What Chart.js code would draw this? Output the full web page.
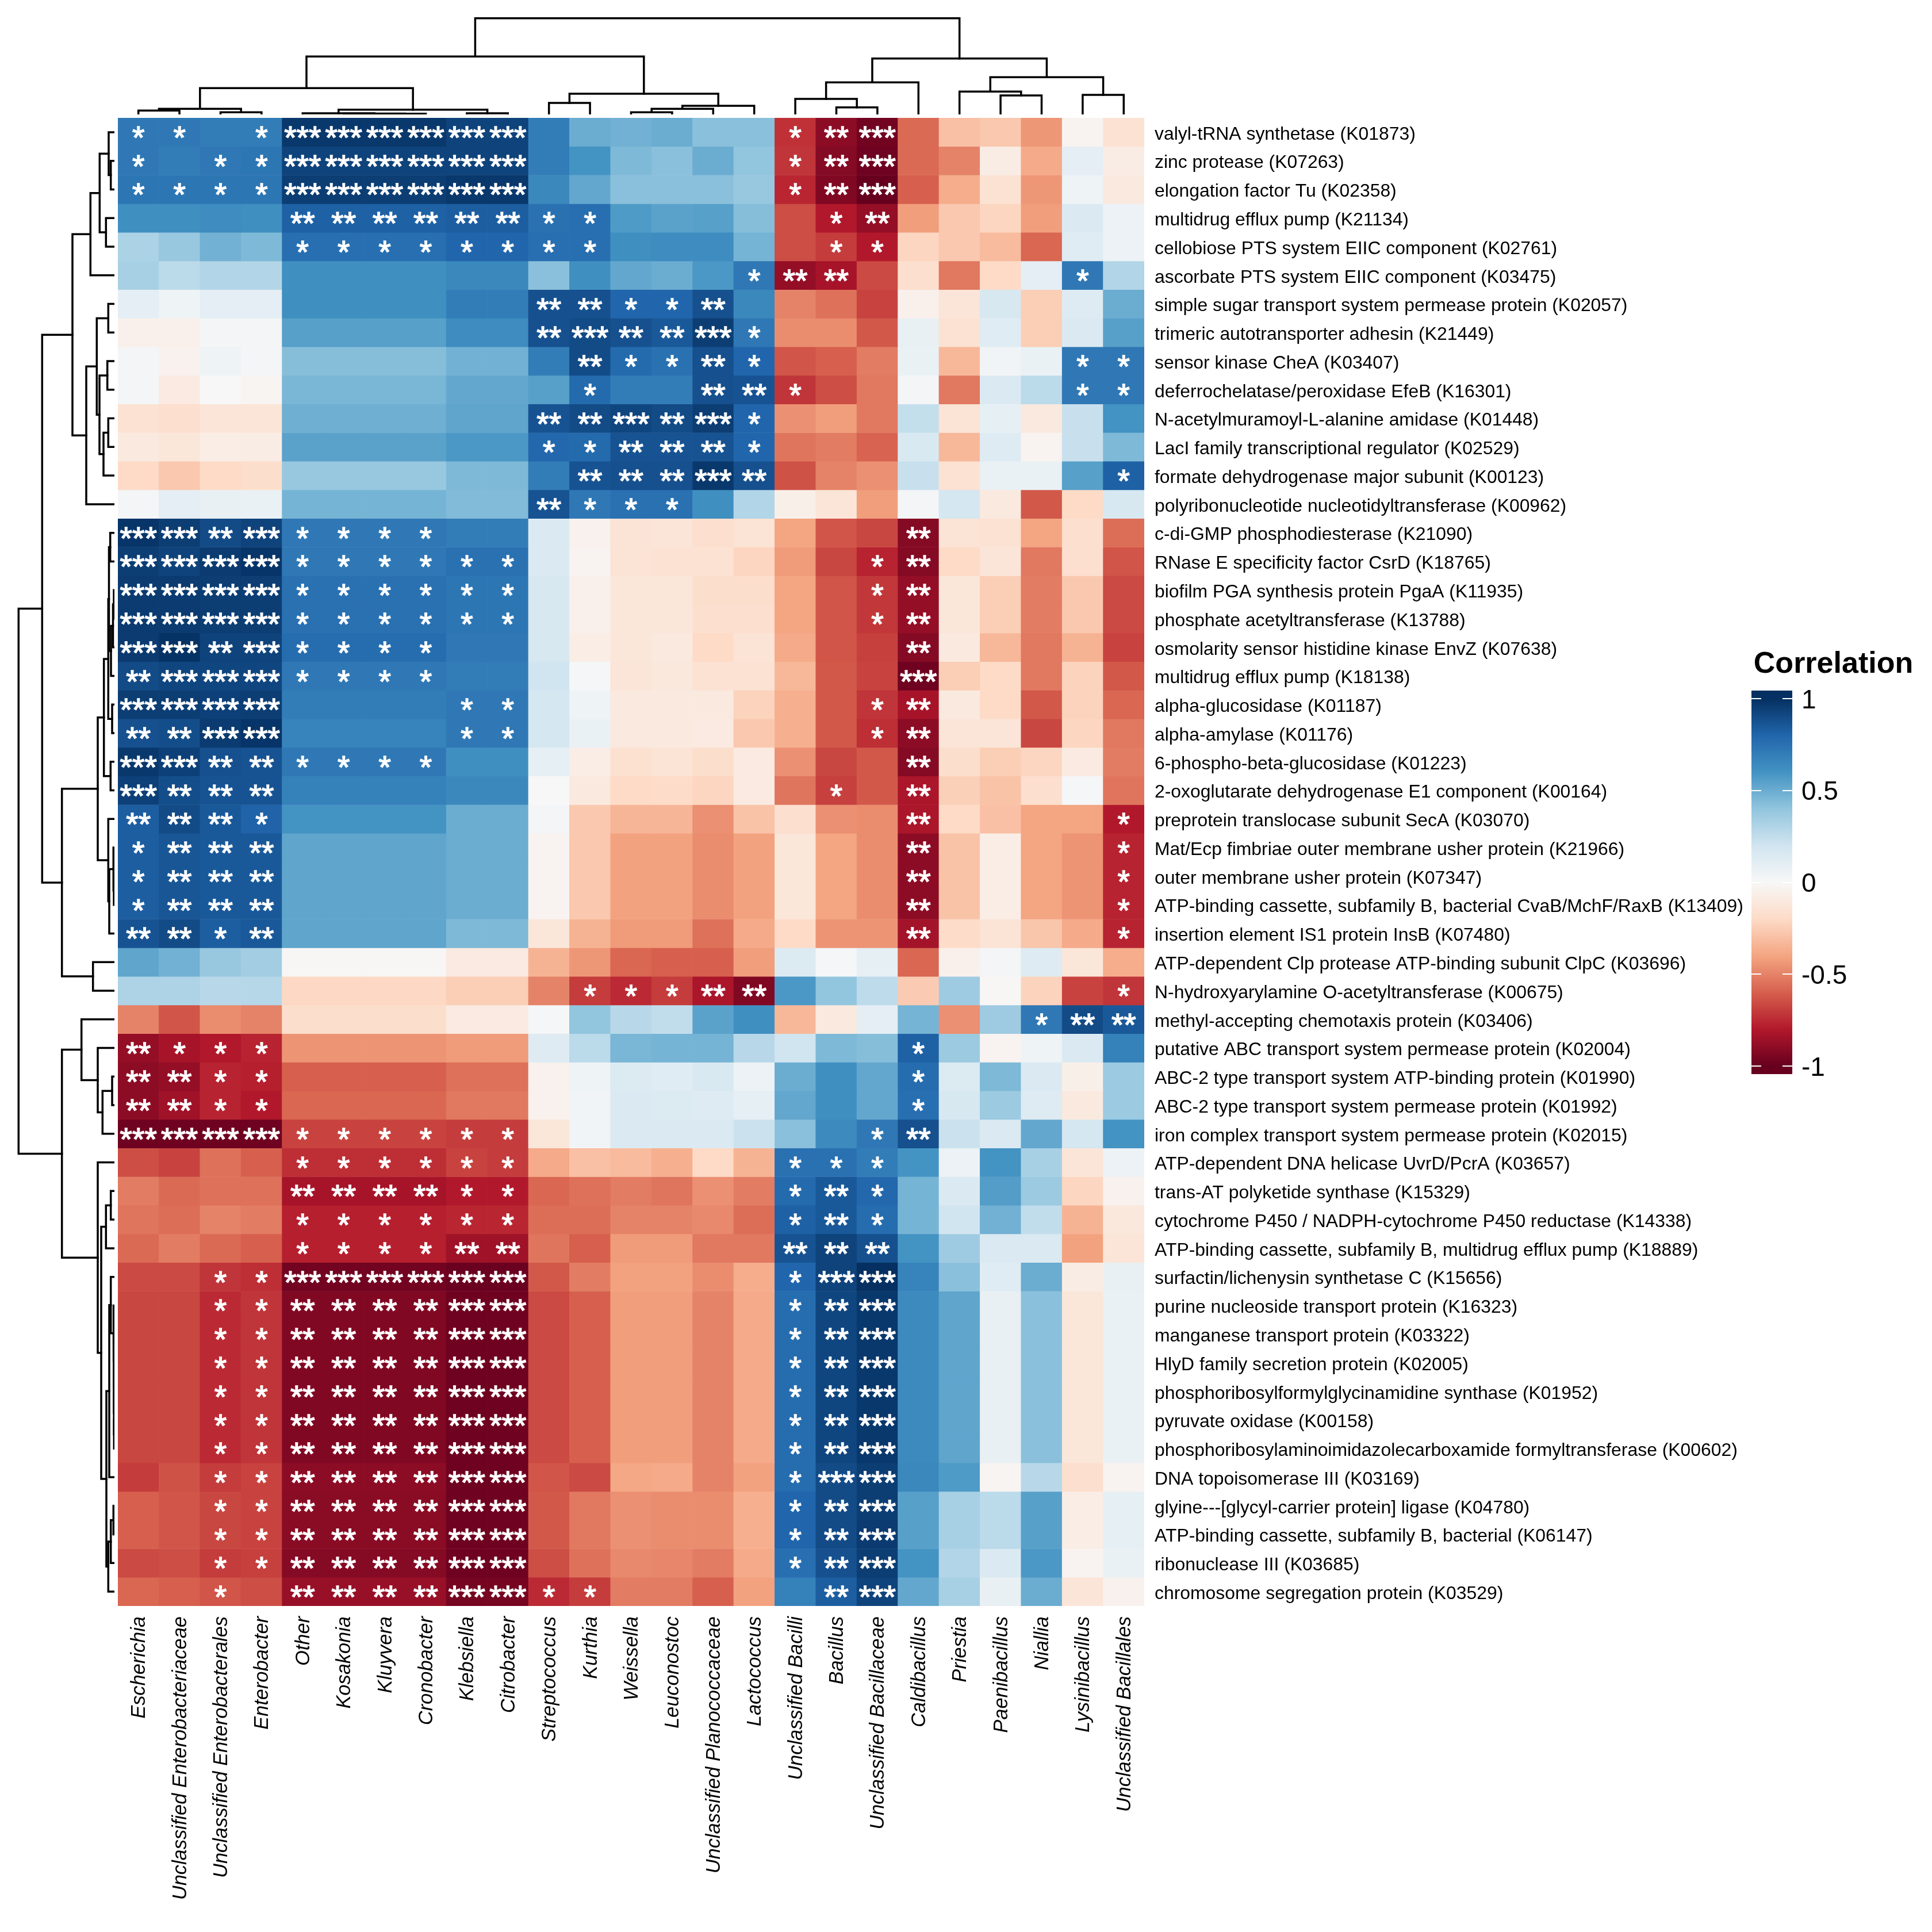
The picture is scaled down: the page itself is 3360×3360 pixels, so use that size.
<!DOCTYPE html>
<html>
<head>
<meta charset="utf-8">
<title>Correlation heatmap</title>
<script src="https://cdn.jsdelivr.net/npm/chart.js@4"></script>
<style>
  html, body { margin: 0; padding: 0; background: #fff; }
  #page { position: relative; width: 3360px; height: 3360px; overflow: hidden; }
  canvas { position: absolute; display: block; }
</style>
</head>
<body>
<div id="page">
  <canvas id="heat" width="3360" height="3360" style="left:0;top:0"></canvas>
  <canvas id="topTree" width="1785" height="199" style="left:205px;top:0"></canvas>
  <canvas id="leftTree" width="199" height="2588" style="left:0;top:205px"></canvas>
  <canvas id="legend" width="360" height="800" style="left:3000px;top:1100px"></canvas>
</div>
<script>
const columnLabels = ['Escherichia', 'Unclassified Enterobacteriaceae', 'Unclassified Enterobacterales', 'Enterobacter',
  'Other', 'Kosakonia', 'Kluyvera', 'Cronobacter', 'Klebsiella', 'Citrobacter', 'Streptococcus', 'Kurthia', 'Weissella',
  'Leuconostoc', 'Unclassified Planococcaceae', 'Lactococcus', 'Unclassified Bacilli', 'Bacillus', 'Unclassified Bacillaceae',
  'Caldibacillus', 'Priestia', 'Paenibacillus', 'Niallia', 'Lysinibacillus', 'Unclassified Bacillales'];

const rowLabels = [
  'valyl-tRNA synthetase (K01873)',
  'zinc protease (K07263)',
  'elongation factor Tu (K02358)',
  'multidrug efflux pump (K21134)',
  'cellobiose PTS system EIIC component (K02761)',
  'ascorbate PTS system EIIC component (K03475)',
  'simple sugar transport system permease protein (K02057)',
  'trimeric autotransporter adhesin (K21449)',
  'sensor kinase CheA (K03407)',
  'deferrochelatase/peroxidase EfeB (K16301)',
  'N-acetylmuramoyl-L-alanine amidase (K01448)',
  'LacI family transcriptional regulator (K02529)',
  'formate dehydrogenase major subunit (K00123)',
  'polyribonucleotide nucleotidyltransferase (K00962)',
  'c-di-GMP phosphodiesterase (K21090)',
  'RNase E specificity factor CsrD (K18765)',
  'biofilm PGA synthesis protein PgaA (K11935)',
  'phosphate acetyltransferase (K13788)',
  'osmolarity sensor histidine kinase EnvZ (K07638)',
  'multidrug efflux pump (K18138)',
  'alpha-glucosidase (K01187)',
  'alpha-amylase (K01176)',
  '6-phospho-beta-glucosidase (K01223)',
  '2-oxoglutarate dehydrogenase E1 component (K00164)',
  'preprotein translocase subunit SecA (K03070)',
  'Mat/Ecp fimbriae outer membrane usher protein (K21966)',
  'outer membrane usher protein (K07347)',
  'ATP-binding cassette, subfamily B, bacterial CvaB/MchF/RaxB (K13409)',
  'insertion element IS1 protein InsB (K07480)',
  'ATP-dependent Clp protease ATP-binding subunit ClpC (K03696)',
  'N-hydroxyarylamine O-acetyltransferase (K00675)',
  'methyl-accepting chemotaxis protein (K03406)',
  'putative ABC transport system permease protein (K02004)',
  'ABC-2 type transport system ATP-binding protein (K01990)',
  'ABC-2 type transport system permease protein (K01992)',
  'iron complex transport system permease protein (K02015)',
  'ATP-dependent DNA helicase UvrD/PcrA (K03657)',
  'trans-AT polyketide synthase (K15329)',
  'cytochrome P450 / NADPH-cytochrome P450 reductase (K14338)',
  'ATP-binding cassette, subfamily B, multidrug efflux pump (K18889)',
  'surfactin/lichenysin synthetase C (K15656)',
  'purine nucleoside transport protein (K16323)',
  'manganese transport protein (K03322)',
  'HlyD family secretion protein (K02005)',
  'phosphoribosylformylglycinamidine synthase (K01952)',
  'pyruvate oxidase (K00158)',
  'phosphoribosylaminoimidazolecarboxamide formyltransferase (K00602)',
  'DNA topoisomerase III (K03169)',
  'glyine---[glycyl-carrier protein] ligase (K04780)',
  'ATP-binding cassette, subfamily B, bacterial (K06147)',
  'ribonuclease III (K03685)',
  'chromosome segregation protein (K03529)'
];

// one row per label, one value per column
const correlations = [
  [.72,.72,.7,.7,.97,.97,.97,.97,.93,.93,.7,.5,.48,.5,.42,.42,-.73,-.9,-.97,-.57,-.3,-.27,-.44,-.03,-.15],
  [.72,.7,.72,.73,.93,.93,.93,.93,.93,.93,.7,.6,.45,.42,.5,.4,-.72,-.92,-.98,-.57,-.5,-.08,-.38,.1,-.08],
  [.73,.73,.73,.73,.95,.95,.95,.95,.97,.97,.65,.52,.42,.42,.42,.38,-.76,-.93,-1,-.6,-.37,-.15,-.44,.05,-.1],
  [.62,.62,.63,.62,.82,.82,.82,.82,.83,.83,.75,.76,.57,.54,.55,.43,-.65,-.8,-.88,-.42,-.27,-.22,-.42,.15,.06],
  [.32,.38,.48,.45,.76,.76,.76,.76,.8,.8,.76,.76,.62,.63,.63,.47,-.65,-.7,-.8,-.22,-.27,-.32,-.58,.12,.06],
  [.33,.27,.3,.3,.62,.62,.62,.62,.65,.65,.42,.62,.52,.5,.58,.72,-.88,-.83,-.66,-.17,-.53,-.2,.1,.72,.3],
  [.1,.05,.1,.1,.62,.62,.62,.62,.7,.7,.88,.88,.8,.8,.88,.65,-.5,-.55,-.68,-.05,-.13,.17,-.25,.13,.5],
  [-.05,-.05,.02,.02,.55,.55,.55,.55,.63,.63,.88,.9,.88,.85,.95,.72,-.47,-.47,-.62,.08,-.15,.12,-.25,.15,.55],
  [.02,-.04,.05,.02,.43,.43,.43,.43,.48,.48,.7,.9,.78,.75,.88,.8,-.63,-.6,-.52,.07,-.33,.03,.07,.72,.72],
  [.02,-.09,0,-.02,.46,.46,.46,.46,.52,.52,.55,.78,.7,.7,.88,.87,-.72,-.65,-.53,.02,-.53,.15,.27,.72,.72],
  [-.15,-.17,-.13,-.13,.49,.49,.49,.49,.53,.53,.87,.9,.92,.9,.95,.8,-.46,-.42,-.53,.24,-.14,.09,-.1,.23,.6],
  [-.1,-.12,-.07,-.08,.54,.54,.54,.54,.58,.58,.79,.78,.87,.87,.87,.8,-.54,-.52,-.59,.16,-.33,.13,-.03,.23,.45],
  [-.2,-.27,-.2,-.18,.38,.38,.38,.38,.45,.45,.7,.87,.88,.88,.97,.88,-.64,-.5,-.46,.23,-.15,.07,.07,.55,.82],
  [.02,.1,.08,.07,.47,.47,.47,.47,.44,.44,.87,.72,.75,.75,.62,.3,-.06,-.13,-.42,.02,.18,-.1,-.62,-.2,.17],
  [.98,.95,.9,.93,.72,.72,.72,.72,.7,.7,.15,-.04,-.14,-.13,-.17,-.14,-.4,-.63,-.67,-.92,-.14,-.15,-.4,-.17,-.56],
  [.95,.93,.96,.98,.72,.72,.72,.72,.75,.75,.15,-.03,-.14,-.15,-.15,-.22,-.43,-.67,-.77,-.92,-.2,-.13,-.53,-.17,-.63],
  [.96,.96,.95,.95,.75,.75,.75,.75,.73,.73,.17,-.05,-.12,-.12,-.18,-.18,-.4,-.63,-.71,-.88,-.12,-.25,-.52,-.27,-.66],
  [.96,.96,.95,.95,.75,.75,.75,.75,.73,.73,.17,-.05,-.12,-.12,-.17,-.17,-.4,-.63,-.71,-.88,-.12,-.25,-.52,-.27,-.66],
  [.96,.99,.93,.93,.77,.77,.77,.77,.72,.72,.17,-.07,-.12,-.1,-.2,-.14,-.38,-.63,-.69,-.92,-.1,-.33,-.53,-.35,-.68],
  [.9,.92,.92,.92,.72,.72,.72,.72,.7,.7,.2,.01,-.13,-.11,-.15,-.15,-.33,-.62,-.68,-.98,-.25,-.2,-.53,-.23,-.62],
  [.95,.95,.94,.95,.7,.7,.7,.7,.72,.72,.18,.05,-.1,-.1,-.1,-.23,-.36,-.62,-.72,-.83,-.1,-.2,-.62,-.23,-.58],
  [.88,.89,.96,.98,.67,.67,.67,.67,.72,.72,.18,.07,-.1,-.1,-.09,-.27,-.36,-.62,-.74,-.9,-.13,-.13,-.67,-.22,-.53],
  [.97,.94,.88,.87,.72,.72,.72,.72,.62,.62,.09,-.07,-.16,-.14,-.18,-.09,-.46,-.67,-.62,-.92,-.18,-.25,-.22,-.09,-.52],
  [.94,.89,.87,.87,.68,.68,.68,.68,.65,.65,0,-.1,-.2,-.19,-.22,-.09,-.54,-.69,-.62,-.82,-.24,-.29,-.17,.01,-.54],
  [.83,.9,.85,.81,.6,.6,.6,.6,.5,.5,.02,-.27,-.34,-.34,-.46,-.29,-.17,-.46,-.47,-.82,-.2,-.3,-.4,-.4,-.8],
  [.83,.86,.85,.85,.53,.53,.53,.53,.5,.5,-.03,-.27,-.41,-.41,-.47,-.41,-.12,-.4,-.47,-.9,-.29,-.07,-.4,-.45,-.77],
  [.83,.86,.85,.85,.53,.53,.53,.53,.5,.5,-.03,-.27,-.41,-.41,-.47,-.41,-.12,-.4,-.47,-.9,-.29,-.07,-.4,-.45,-.77],
  [.83,.86,.85,.85,.53,.53,.53,.53,.5,.5,-.03,-.27,-.41,-.41,-.47,-.41,-.12,-.4,-.47,-.9,-.29,-.07,-.4,-.45,-.77],
  [.87,.9,.83,.85,.53,.53,.53,.53,.45,.45,-.12,-.35,-.43,-.43,-.55,-.38,-.2,-.45,-.45,-.84,-.19,-.14,-.28,-.38,-.77],
  [.53,.48,.38,.35,-.01,-.01,-.01,-.01,-.09,-.09,-.35,-.44,-.58,-.6,-.6,-.42,.14,.01,.09,-.58,-.05,.02,.13,-.12,-.37],
  [.31,.31,.28,.29,-.21,-.21,-.21,-.21,-.25,-.25,-.5,-.7,-.75,-.7,-.82,-.93,.58,.4,.26,-.26,.36,-.01,-.23,-.68,-.72],
  [-.5,-.63,-.47,-.5,-.18,-.18,-.18,-.18,-.09,-.09,.01,.4,.28,.25,.54,.62,-.33,-.1,.1,.47,-.46,.36,.72,.9,.85],
  [-.88,-.83,-.8,-.77,-.45,-.45,-.45,-.45,-.43,-.43,.13,.27,.46,.47,.47,.28,.2,.45,.43,.82,.37,-.03,.05,.15,.68],
  [-.9,-.88,-.77,-.78,-.6,-.6,-.6,-.6,-.55,-.55,-.04,.05,.14,.12,.16,.06,.5,.62,.52,.77,.14,.45,.15,-.06,.37],
  [-.9,-.85,-.77,-.8,-.58,-.58,-.58,-.58,-.53,-.53,-.04,.03,.15,.14,.13,.09,.52,.62,.52,.76,.17,.37,.13,-.1,.37],
  [-.98,-.98,-.98,-.98,-.68,-.68,-.68,-.68,-.7,-.7,-.12,.03,.15,.15,.15,.22,.42,.64,.72,.88,.22,.15,.52,.18,.6],
  [-.65,-.68,-.55,-.6,-.74,-.74,-.74,-.74,-.68,-.7,-.38,-.3,-.32,-.36,-.2,-.35,.75,.75,.7,.6,.06,.6,.33,-.13,.06],
  [-.52,-.57,-.55,-.55,-.83,-.83,-.83,-.83,-.8,-.8,-.58,-.55,-.52,-.54,-.46,-.52,.78,.85,.79,.47,.15,.56,.37,-.22,-.04],
  [-.54,-.56,-.5,-.52,-.78,-.78,-.78,-.78,-.76,-.76,-.56,-.56,-.5,-.5,-.48,-.56,.82,.85,.77,.47,.2,.48,.25,-.35,-.11],
  [-.57,-.52,-.57,-.6,-.78,-.78,-.78,-.78,-.85,-.85,-.54,-.6,-.43,-.43,-.53,-.53,.87,.93,.88,.6,.36,.15,.15,-.41,-.13],
  [-.66,-.66,-.72,-.74,-.97,-.97,-.97,-.97,-.99,-.99,-.62,-.52,-.41,-.41,-.47,-.37,.8,.93,1,.67,.42,.12,.5,-.08,.08],
  [-.67,-.67,-.75,-.72,-.93,-.93,-.93,-.93,-.98,-.98,-.66,-.6,-.42,-.42,-.5,-.38,.77,.92,.97,.64,.53,.08,.42,-.12,.07],
  [-.67,-.67,-.75,-.72,-.93,-.93,-.93,-.93,-.98,-.98,-.66,-.6,-.42,-.42,-.5,-.38,.77,.92,.97,.64,.53,.08,.42,-.12,.07],
  [-.67,-.67,-.75,-.72,-.93,-.93,-.93,-.93,-.98,-.98,-.66,-.6,-.42,-.42,-.5,-.38,.77,.92,.97,.64,.53,.08,.42,-.12,.07],
  [-.67,-.67,-.75,-.72,-.93,-.93,-.93,-.93,-.98,-.98,-.66,-.6,-.42,-.42,-.5,-.38,.77,.92,.97,.64,.53,.08,.42,-.12,.07],
  [-.67,-.67,-.75,-.72,-.93,-.93,-.93,-.93,-.98,-.98,-.66,-.6,-.42,-.42,-.5,-.38,.77,.92,.97,.64,.53,.08,.42,-.12,.07],
  [-.67,-.67,-.75,-.72,-.93,-.93,-.93,-.93,-.98,-.98,-.66,-.6,-.42,-.42,-.5,-.38,.77,.92,.97,.64,.53,.08,.42,-.12,.07],
  [-.7,-.64,-.7,-.68,-.9,-.9,-.9,-.9,-.98,-.98,-.63,-.66,-.39,-.38,-.5,-.41,.77,.9,.95,.65,.57,-.02,.28,-.17,-.03],
  [-.6,-.63,-.67,-.68,-.91,-.91,-.91,-.91,-.98,-.98,-.62,-.53,-.46,-.47,-.47,-.36,.8,.9,.95,.55,.33,.27,.55,-.07,.09],
  [-.6,-.63,-.67,-.68,-.91,-.91,-.91,-.91,-.98,-.98,-.62,-.53,-.46,-.47,-.47,-.36,.8,.9,.96,.55,.33,.27,.55,-.07,.09],
  [-.66,-.65,-.7,-.69,-.92,-.92,-.92,-.92,-.98,-.98,-.65,-.55,-.48,-.49,-.52,-.38,.76,.88,.95,.6,.3,.15,.58,-.03,.07],
  [-.58,-.6,-.63,-.65,-.87,-.87,-.87,-.87,-.96,-.96,-.75,-.7,-.52,-.52,-.6,-.41,.68,.83,.93,.52,.33,.08,.5,-.13,-.04]
];

// number of significance stars in each cell
const starCounts = [
  [1,1,0,1,3,3,3,3,3,3,0,0,0,0,0,0,1,2,3,0,0,0,0,0,0],
  [1,0,1,1,3,3,3,3,3,3,0,0,0,0,0,0,1,2,3,0,0,0,0,0,0],
  [1,1,1,1,3,3,3,3,3,3,0,0,0,0,0,0,1,2,3,0,0,0,0,0,0],
  [0,0,0,0,2,2,2,2,2,2,1,1,0,0,0,0,0,1,2,0,0,0,0,0,0],
  [0,0,0,0,1,1,1,1,1,1,1,1,0,0,0,0,0,1,1,0,0,0,0,0,0],
  [0,0,0,0,0,0,0,0,0,0,0,0,0,0,0,1,2,2,0,0,0,0,0,1,0],
  [0,0,0,0,0,0,0,0,0,0,2,2,1,1,2,0,0,0,0,0,0,0,0,0,0],
  [0,0,0,0,0,0,0,0,0,0,2,3,2,2,3,1,0,0,0,0,0,0,0,0,0],
  [0,0,0,0,0,0,0,0,0,0,0,2,1,1,2,1,0,0,0,0,0,0,0,1,1],
  [0,0,0,0,0,0,0,0,0,0,0,1,0,0,2,2,1,0,0,0,0,0,0,1,1],
  [0,0,0,0,0,0,0,0,0,0,2,2,3,2,3,1,0,0,0,0,0,0,0,0,0],
  [0,0,0,0,0,0,0,0,0,0,1,1,2,2,2,1,0,0,0,0,0,0,0,0,0],
  [0,0,0,0,0,0,0,0,0,0,0,2,2,2,3,2,0,0,0,0,0,0,0,0,1],
  [0,0,0,0,0,0,0,0,0,0,2,1,1,1,0,0,0,0,0,0,0,0,0,0,0],
  [3,3,2,3,1,1,1,1,0,0,0,0,0,0,0,0,0,0,0,2,0,0,0,0,0],
  [3,3,3,3,1,1,1,1,1,1,0,0,0,0,0,0,0,0,1,2,0,0,0,0,0],
  [3,3,3,3,1,1,1,1,1,1,0,0,0,0,0,0,0,0,1,2,0,0,0,0,0],
  [3,3,3,3,1,1,1,1,1,1,0,0,0,0,0,0,0,0,1,2,0,0,0,0,0],
  [3,3,2,3,1,1,1,1,0,0,0,0,0,0,0,0,0,0,0,2,0,0,0,0,0],
  [2,3,3,3,1,1,1,1,0,0,0,0,0,0,0,0,0,0,0,3,0,0,0,0,0],
  [3,3,3,3,0,0,0,0,1,1,0,0,0,0,0,0,0,0,1,2,0,0,0,0,0],
  [2,2,3,3,0,0,0,0,1,1,0,0,0,0,0,0,0,0,1,2,0,0,0,0,0],
  [3,3,2,2,1,1,1,1,0,0,0,0,0,0,0,0,0,0,0,2,0,0,0,0,0],
  [3,2,2,2,0,0,0,0,0,0,0,0,0,0,0,0,0,1,0,2,0,0,0,0,0],
  [2,2,2,1,0,0,0,0,0,0,0,0,0,0,0,0,0,0,0,2,0,0,0,0,1],
  [1,2,2,2,0,0,0,0,0,0,0,0,0,0,0,0,0,0,0,2,0,0,0,0,1],
  [1,2,2,2,0,0,0,0,0,0,0,0,0,0,0,0,0,0,0,2,0,0,0,0,1],
  [1,2,2,2,0,0,0,0,0,0,0,0,0,0,0,0,0,0,0,2,0,0,0,0,1],
  [2,2,1,2,0,0,0,0,0,0,0,0,0,0,0,0,0,0,0,2,0,0,0,0,1],
  [0,0,0,0,0,0,0,0,0,0,0,0,0,0,0,0,0,0,0,0,0,0,0,0,0],
  [0,0,0,0,0,0,0,0,0,0,0,1,1,1,2,2,0,0,0,0,0,0,0,0,1],
  [0,0,0,0,0,0,0,0,0,0,0,0,0,0,0,0,0,0,0,0,0,0,1,2,2],
  [2,1,1,1,0,0,0,0,0,0,0,0,0,0,0,0,0,0,0,1,0,0,0,0,0],
  [2,2,1,1,0,0,0,0,0,0,0,0,0,0,0,0,0,0,0,1,0,0,0,0,0],
  [2,2,1,1,0,0,0,0,0,0,0,0,0,0,0,0,0,0,0,1,0,0,0,0,0],
  [3,3,3,3,1,1,1,1,1,1,0,0,0,0,0,0,0,0,1,2,0,0,0,0,0],
  [0,0,0,0,1,1,1,1,1,1,0,0,0,0,0,0,1,1,1,0,0,0,0,0,0],
  [0,0,0,0,2,2,2,2,1,1,0,0,0,0,0,0,1,2,1,0,0,0,0,0,0],
  [0,0,0,0,1,1,1,1,1,1,0,0,0,0,0,0,1,2,1,0,0,0,0,0,0],
  [0,0,0,0,1,1,1,1,2,2,0,0,0,0,0,0,2,2,2,0,0,0,0,0,0],
  [0,0,1,1,3,3,3,3,3,3,0,0,0,0,0,0,1,3,3,0,0,0,0,0,0],
  [0,0,1,1,2,2,2,2,3,3,0,0,0,0,0,0,1,2,3,0,0,0,0,0,0],
  [0,0,1,1,2,2,2,2,3,3,0,0,0,0,0,0,1,2,3,0,0,0,0,0,0],
  [0,0,1,1,2,2,2,2,3,3,0,0,0,0,0,0,1,2,3,0,0,0,0,0,0],
  [0,0,1,1,2,2,2,2,3,3,0,0,0,0,0,0,1,2,3,0,0,0,0,0,0],
  [0,0,1,1,2,2,2,2,3,3,0,0,0,0,0,0,1,2,3,0,0,0,0,0,0],
  [0,0,1,1,2,2,2,2,3,3,0,0,0,0,0,0,1,2,3,0,0,0,0,0,0],
  [0,0,1,1,2,2,2,2,3,3,0,0,0,0,0,0,1,3,3,0,0,0,0,0,0],
  [0,0,1,1,2,2,2,2,3,3,0,0,0,0,0,0,1,2,3,0,0,0,0,0,0],
  [0,0,1,1,2,2,2,2,3,3,0,0,0,0,0,0,1,2,3,0,0,0,0,0,0],
  [0,0,1,1,2,2,2,2,3,3,0,0,0,0,0,0,1,2,3,0,0,0,0,0,0],
  [0,0,1,0,2,2,2,2,3,3,1,1,0,0,0,0,0,2,3,0,0,0,0,0,0]
];

// dendrograms as [merge height, left branch, right branch], a plain number is a leaf
const columnTree = [167.3,
  [100.7,
    [45.7,
      [9.7, [6.7, 0, 1], [3.7, 2, 3]],
      [8.3, [2, 4, [1.6, 5, [1.2, 6, 7]]], [2, 8, 9]]],
    [36,
      [20, 10, 11],
      [15, [9.7, [3.7, 12, 13], 14], 15]]],
  [97.3,
    [55.7, [27, 16, [12.3, 17, 18]], 19],
    [64.7, [39.7, 20, [33, 21, 22]], [34, 23, 24]]]];

const rowTree = [166.7,
  [125.7,
    [73,
      [41.7, [25.7, [10, 0, [6.3, 1, 2]], [14.7, 3, 4]], 5],
      [49, [30.7, [10.7, 6, 7], [26, [12.3, 8, 9], [19, [10.7, 10, 11], 12]]], 13]],
    [91.3,
      [29,
        [18.3,
          [10.7, [9.5, [7.3, 14, 15], [6, [2.5, [1, 16, 17], 18], 19]], [4, 20, 21]],
          [6.7, 22, 23]],
        [10.7, 24, [9, [1.7, 25, [1, 26, 27]], 28]]],
      [37.3, 29, 30]]],
  [91.3,
    [57.3, 31, [29, 32, [20.7, [4, 33, 34], 35]]],
    [29, 36,
      [23,
        [14.7, [6.3, 37, 38], 39],
        [14,
          [9, [6.3, 40, [1.5, 41, [1.3, 42, [1.1, 43, [0.9, 44, [0.7, 45, 46]]]]]], 47],
          [10.7, [6.3, [1.7, 48, 49], 50], 51]]]]]];

const legendTicks = [1, 0.5, 0, -0.5, -1];
const legendRange = [-1.044, 1.044];

// RdBu ramp used by the heatmap
const rampValues = [-1, -0.8, -0.6, -0.4, -0.2, 0, 0.2, 0.4, 0.6, 0.8, 1];
const rampColors = ['#67001f', '#b2182b', '#d6604d', '#f4a582', '#fddbc7', '#f7f7f7', '#d1e5f0', '#92c5de', '#4393c3', '#2166ac', '#053061'];

const labelFont = 'Liberation Sans, Arial, sans-serif';

function hexToRgb(hex) {
  return [1, 3, 5].map(i => parseInt(hex.slice(i, i + 2), 16));
}

function colorFor(v) {
  let i = 0;
  while (i < rampValues.length - 2 && v > rampValues[i + 1]) i++;
  const t = Math.max(0, Math.min(1, (v - rampValues[i]) / (rampValues[i + 1] - rampValues[i])));
  const a = hexToRgb(rampColors[i]);
  const b = hexToRgb(rampColors[i + 1]);
  const c = a.map((n, k) => Math.round(n + (b[k] - n) * t));
  return 'rgb(' + c.join(',') + ')';
}

// white stars on top of the cells
const cellStars = {
  id: 'cellStars',
  afterDatasetsDraw(chart) {
    const ctx = chart.ctx;
    const xScale = chart.scales.x;
    const yScale = chart.scales.yLabels;
    ctx.save();
    ctx.fillStyle = '#fff';
    ctx.strokeStyle = '#fff';
    ctx.lineWidth = 1.5;
    ctx.font = '55px ' + labelFont;
    ctx.textAlign = 'center';
    ctx.textBaseline = 'alphabetic';
    starCounts.forEach((row, r) => {
      row.forEach((n, c) => {
        if (n > 0) {
          const text = '*'.repeat(n);
          const px = xScale.getPixelForValue(c);
          const py = yScale.getPixelForValue(r) + 28;
          ctx.fillText(text, px, py);
          ctx.strokeText(text, px, py);
        }
      });
    });
    ctx.restore();
  }
};

new Chart(document.getElementById('heat'), {
  type: 'bar',
  data: {
    labels: columnLabels,
    datasets: correlations.map((row, r) => ({
      data: row.map(() => [r, r + 1]),
      backgroundColor: row.map(colorFor),
      grouped: false,
      barPercentage: 1,
      categoryPercentage: 1,
      borderWidth: 0
    }))
  },
  options: {
    responsive: false,
    animation: false,
    devicePixelRatio: 1,
    layout: { padding: { left: 205, top: 205, right: 0, bottom: 0 } },
    plugins: { legend: { display: false }, tooltip: { enabled: false } },
    scales: {
      x: {
        type: 'category',
        position: 'bottom',
        afterFit(axis) { axis.height = 567; },
        grid: { display: false, drawTicks: false },
        border: { display: false },
        ticks: {
          autoSkip: false,
          minRotation: 90,
          maxRotation: 90,
          padding: 18,
          labelOffset: 2,
          color: '#000',
          font: { family: labelFont, size: 34.4, style: 'italic' }
        }
      },
      y: { type: 'linear', min: 0, max: 52, reverse: true, display: false },
      yLabels: {
        type: 'category',
        labels: rowLabels,
        position: 'right',
        offset: true,
        afterFit(axis) { axis.width = 1370; },
        grid: { display: false, drawTicks: false },
        border: { display: false },
        ticks: {
          autoSkip: false,
          padding: 18,
          labelOffset: 4,
          color: '#000',
          font: { family: labelFont, size: 31.9 }
        }
      }
    }
  },
  plugins: [cellStars]
});

// walks a tree and returns one U shaped path per merge
function treePaths(tree) {
  const paths = [];
  function walk(node) {
    if (typeof node === 'number') return { pos: node + 0.5, height: 0 };
    const a = walk(node[1]);
    const b = walk(node[2]);
    paths.push([[a.pos, a.height], [a.pos, node[0]], [b.pos, node[0]], [b.pos, b.height]]);
    return { pos: (a.pos + b.pos) / 2, height: node[0] };
  }
  walk(tree);
  return paths;
}

function treeChart(id, tree, horizontal, xOpts, yOpts) {
  new Chart(document.getElementById(id), {
    type: 'scatter',
    data: {
      datasets: treePaths(tree).map(path => ({
        data: path.map(p => horizontal ? { x: p[1], y: p[0] } : { x: p[0], y: p[1] }),
        showLine: true,
        borderColor: '#000',
        borderWidth: 3.5,
        borderCapStyle: 'square',
        pointRadius: 0,
        clip: false
      }))
    },
    options: {
      responsive: false,
      animation: false,
      devicePixelRatio: 1,
      plugins: { legend: { display: false }, tooltip: { enabled: false } },
      scales: { x: xOpts, y: yOpts }
    }
  });
}

treeChart('topTree', columnTree, false,
  { type: 'linear', min: 0, max: columnLabels.length, display: false },
  { type: 'linear', min: 0, max: 199, display: false });
treeChart('leftTree', rowTree, true,
  { type: 'linear', min: 0, max: 199, reverse: true, display: false },
  { type: 'linear', min: 0, max: rowLabels.length, reverse: true, display: false });

function legendGradient(context) {
  const chart = context.chart;
  if (!chart.chartArea) return '#f7f7f7';
  const y = chart.scales.y;
  const g = chart.ctx.createLinearGradient(0, y.getPixelForValue(legendRange[1]), 0, y.getPixelForValue(legendRange[0]));
  rampValues.forEach((v, i) => {
    const stop = (legendRange[1] - v) / (legendRange[1] - legendRange[0]);
    g.addColorStop(stop, rampColors[i]);
  });
  return g;
}

new Chart(document.getElementById('legend'), {
  type: 'bar',
  data: {
    labels: ['Correlation'],
    datasets: [{
      data: [legendRange],
      backgroundColor: legendGradient,
      barPercentage: 1,
      categoryPercentage: 1,
      borderWidth: 0
    }]
  },
  options: {
    responsive: false,
    animation: false,
    devicePixelRatio: 1,
    layout: { padding: { left: 46, top: 0, right: 29, bottom: 32 } },
    plugins: {
      legend: { display: false },
      tooltip: { enabled: false },
      title: {
        display: true,
        text: 'Correlation',
        align: 'center',
        color: '#000',
        padding: { top: 30, bottom: 19 },
        font: { family: labelFont, size: 52, weight: 'bold', lineHeight: 1 }
      }
    },
    scales: {
      x: { display: false },
      y: {
        position: 'right',
        min: legendRange[0],
        max: legendRange[1],
        afterBuildTicks(axis) { axis.ticks = legendTicks.map(value => ({ value })); },
        afterFit(axis) {
          axis.width = 214;
          axis.paddingTop = 0;
          axis.paddingBottom = 0;
        },
        grid: { color: '#fff', lineWidth: 2, z: 1, drawTicks: false },
        border: { display: false, dash: [17, 37, 17, 0] },
        ticks: {
          padding: 16,
          labelOffset: 4,
          color: '#000',
          font: { family: labelFont, size: 46 },
          callback: value => String(value)
        }
      }
    }
  }
});
</script>
</body>
</html>
